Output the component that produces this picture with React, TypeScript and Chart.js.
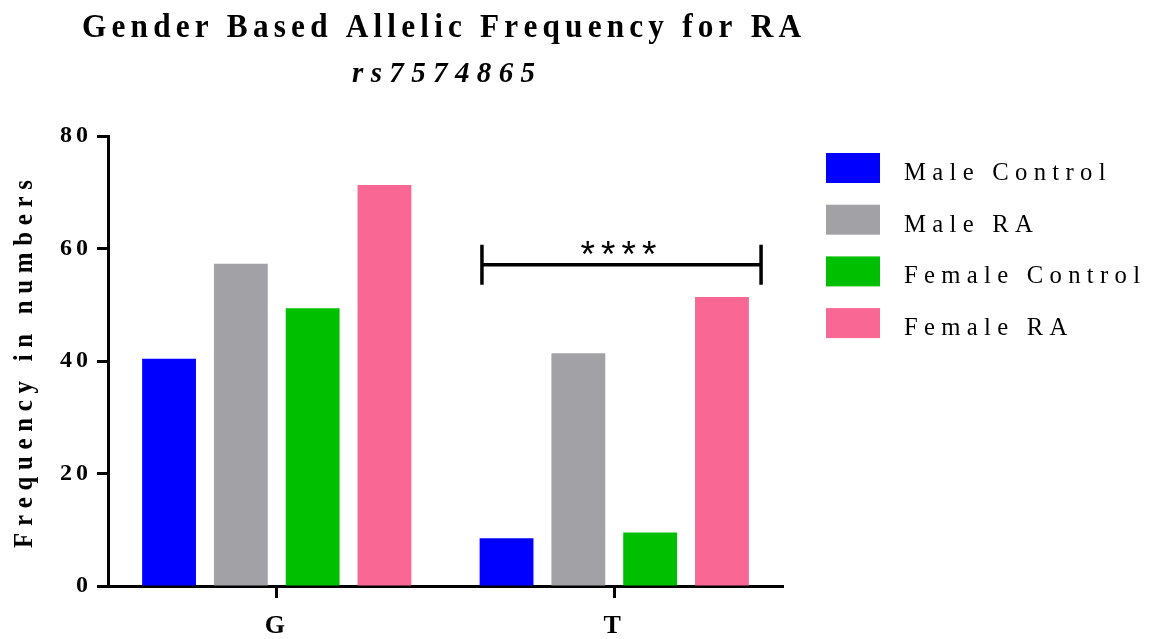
import React, { useEffect, useRef } from "react";
import { Chart, registerables } from "chart.js";

Chart.register(...registerables);

// ---------- data ----------
const CATEGORIES = ["G", "T"];
const SERIES_LABELS = ["Male Control", "Male RA", "Female Control", "Female RA"];
const MALE_CONTROL = [40.4, 8.5];
const MALE_RA = [57.3, 41.4];
const FEMALE_CONTROL = [49.4, 9.5];
const FEMALE_RA = [71.3, 51.4];
const SERIES_COLORS = ["#0000FF", "#A2A1A6", "#00BF00", "#F96894"];
const Y_TICKS = [0, 20, 40, 60, 80];
const TITLE = "Gender Based Allelic Frequency for RA";
const SUBTITLE = "rs7574865";
const Y_TITLE = "Frequency in numbers";
const SIG_CATEGORY = "T";
const SIG_VALUE = 57.1;
const SIG_LABEL = "****";

const SERIF = "'Liberation Serif', 'Times New Roman', serif";
const SANS = "'Liberation Sans', Arial, sans-serif";

function plainWidth(ctx: CanvasRenderingContext2D, text: string, sx = 1) {
  let w = 0;
  for (const ch of text) w += ctx.measureText(ch).width * sx;
  return w;
}

function drawSpaced(ctx: CanvasRenderingContext2D, text: string, x: number, y: number, sp: number, sx = 1) {
  let cx = x;
  for (const ch of text) {
    ctx.save();
    ctx.translate(cx, y);
    ctx.scale(sx, 1);
    ctx.fillText(ch, 0, 0);
    ctx.restore();
    cx += ctx.measureText(ch).width * sx + sp;
  }
}

function drawFitted(ctx: CanvasRenderingContext2D, text: string, left: number, right: number, y: number, sx = 1) {
  const w = plainWidth(ctx, text, sx);
  const n = Array.from(text).length;
  const sp = n > 1 ? (right - left - w) / (n - 1) : 0;
  drawSpaced(ctx, text, left, y, sp, sx);
}

const decorPlugin = {
  id: "decor",
  beforeDraw(chart: any) {
    try {
      (chart.ctx as any).letterSpacing = "4px";
    } catch (e) {}
  },
  afterDraw(chart: any) {
    const ctx: CanvasRenderingContext2D = chart.ctx;
    ctx.save();
    try {
      (ctx as any).letterSpacing = "0px";
    } catch (e) {}
    ctx.fillStyle = "#000";
    ctx.textAlign = "left";
    ctx.textBaseline = "alphabetic";

    // Title
    ctx.font = `bold 34px ${SERIF}`;
    drawFitted(ctx, TITLE, 82, 801, 37, 0.92);
    ctx.font = `italic bold 29px ${SERIF}`;
    drawFitted(ctx, SUBTITLE, 352, 535, 82, 1);

    // Y axis title (rotated)
    ctx.save();
    ctx.translate(32, 548);
    ctx.rotate(-Math.PI / 2);
    ctx.font = `bold 27px ${SERIF}`;
    drawFitted(ctx, Y_TITLE, 0, 368, 0, 0.92);
    ctx.restore();

    // Legend
    ctx.font = `26px ${SERIF}`;
    const legendSx = 0.95;
    const longest = SERIES_LABELS.reduce((a, b) => (b.length > a.length ? b : a));
    const legendSp = (236 - plainWidth(ctx, longest, legendSx)) / (longest.length - 1);
    SERIES_LABELS.forEach((label, i) => {
      const top = 153 + i * 51.7;
      ctx.fillStyle = SERIES_COLORS[i];
      ctx.fillRect(826, top, 54, 30);
      ctx.fillStyle = "#000";
      drawSpaced(ctx, label, 904, top + 27, legendSp, legendSx);
    });

    // Significance bracket
    const xs = chart.scales.x;
    const ys = chart.scales.y;
    const idx = CATEGORIES.indexOf(SIG_CATEGORY);
    const center = xs.getPixelForValue(idx);
    const catW = (xs.right - xs.left) / CATEGORIES.length;
    const left = center - 0.392 * catW;
    const right = center + 0.435 * catW;
    const y = ys.getPixelForValue(SIG_VALUE);
    ctx.strokeStyle = "#000";
    ctx.lineWidth = 3.5;
    ctx.beginPath();
    ctx.moveTo(left, y);
    ctx.lineTo(right, y);
    ctx.moveTo(left, y - 20);
    ctx.lineTo(left, y + 20);
    ctx.moveTo(right, y - 20);
    ctx.lineTo(right, y + 20);
    ctx.stroke();

    ctx.font = `37px ${SANS}`;
    const starSp = 20.5 - ctx.measureText("*").width;
    const sw = plainWidth(ctx, SIG_LABEL) + starSp * (SIG_LABEL.length - 1);
    drawSpaced(ctx, SIG_LABEL, (left + right) / 2 - sw / 2 - 3, y + 2, starSp);

    ctx.restore();
  },
};

export default function App() {
  const canvasRef = useRef<HTMLCanvasElement | null>(null);

  useEffect(() => {
    if (!canvasRef.current) return;
    const seriesValues = [MALE_CONTROL, MALE_RA, FEMALE_CONTROL, FEMALE_RA];
    const chart = new Chart(canvasRef.current, {
      type: "bar",
      data: {
        labels: CATEGORIES,
        datasets: SERIES_LABELS.map((label, i) => ({
          label,
          data: seriesValues[i],
          backgroundColor: SERIES_COLORS[i],
          borderWidth: 0,
          categoryPercentage: 0.851,
          barPercentage: 0.75,
        })),
      },
      options: {
        animation: false,
        responsive: false,
        events: [],
        layout: { padding: { top: 136, right: 369, bottom: 0, left: 0 } },
        plugins: {
          legend: { display: false },
          title: { display: false },
          tooltip: { enabled: false },
        },
        scales: {
          x: {
            type: "category",
            offset: true,
            grid: {
              offset: false,
              drawOnChartArea: false,
              drawTicks: true,
              tickLength: 12,
              tickWidth: 3,
              tickColor: "#000",
            },
            border: { display: true, color: "#000", width: 3 },
            ticks: {
              color: "#000",
              font: { family: SERIF, weight: "bold", size: 26 },
              padding: 13,
              maxRotation: 0,
            },
            afterFit: (s: any) => {
              s.height = 53;
              s.paddingLeft = 0;
              s.paddingRight = 0;
            },
          },
          y: {
            min: 0,
            max: 80,
            afterBuildTicks: (s: any) => {
              s.ticks = Y_TICKS.map((v) => ({ value: v }));
            },
            grid: {
              drawOnChartArea: false,
              drawTicks: true,
              tickLength: 11,
              tickWidth: 3,
              tickColor: "#000",
            },
            border: { display: true, color: "#000", width: 3 },
            ticks: {
              color: "#000",
              font: { family: SERIF, weight: "bold", size: 24 },
              padding: 5,
            },
            afterFit: (s: any) => {
              s.width = 108;
              s.paddingTop = 0;
              s.paddingBottom = 0;
            },
          },
        },
      } as any,
      plugins: [decorPlugin],
    });
    return () => chart.destroy();
  }, []);

  return (
    <div style={{ position: "absolute", left: 0, top: 0, width: 1152, height: 639, background: "#fff" }}>
      <canvas ref={canvasRef} width={1152} height={639} style={{ display: "block" }} />
    </div>
  );
}
